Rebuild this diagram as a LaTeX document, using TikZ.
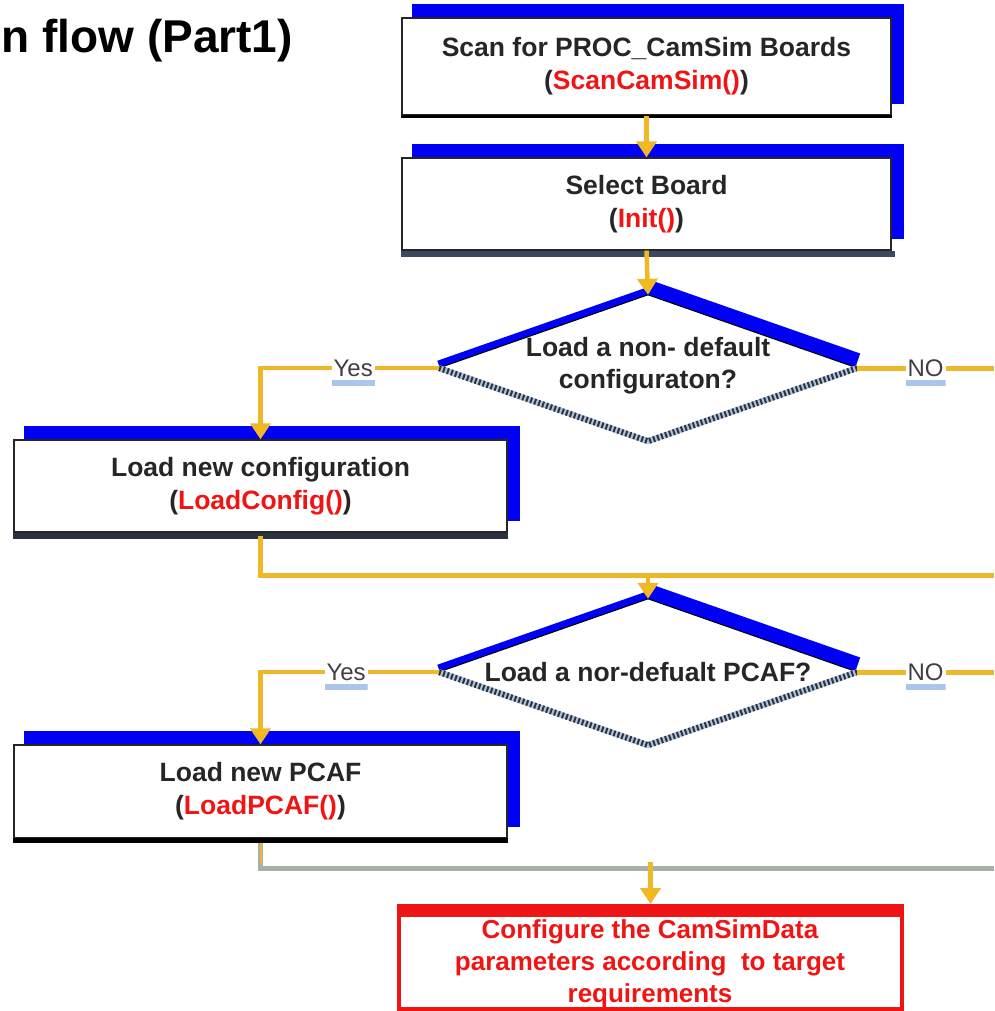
\documentclass[tikz,border=0pt]{standalone}
\usepackage{fontspec}
\setmainfont{Liberation Sans}
\usetikzlibrary{shapes.geometric,arrows.meta,calc}
\pgfdeclarelayer{bg}
\pgfsetlayers{bg,main}
\definecolor{shblue}{RGB}{0,0,245}
\definecolor{flowy}{RGB}{238,184,40}
\definecolor{tipy}{RGB}{255,190,0}
\definecolor{flowg}{RGB}{168,176,166}
\definecolor{fred}{RGB}{240,20,20}
\definecolor{darkbar}{RGB}{60,72,92}
\definecolor{lblue}{RGB}{170,198,235}
\begin{document}
\begin{tikzpicture}[x=1pt,y=-1pt,
  proc/.style={draw=black!85, line width=1.2pt, fill=white, align=center,
    minimum width=#1, font=\fontsize{26.5}{33}\selectfont\bfseries, text=black!85},
  dia/.style={diamond, minimum width=418pt, minimum height=146pt, inner sep=0pt, fill=white},
  dtext/.style={align=center, font=\fontsize{26.5}{32}\selectfont\bfseries, text=black!85},
  lbl/.style={fill=white, text=black!75, font=\fontsize{24}{24}\selectfont,
    inner xsep=2pt, inner ysep=8pt, minimum height=36pt,
    path picture={\fill[lblue] (path picture bounding box.south west) rectangle ([yshift=6pt]path picture bounding box.south east);}},
  flowline/.style={draw=flowy, line width=5pt},
  flow/.style={draw=flowy, line width=4.5pt, -{Triangle[width=20pt,length=16pt,fill=tipy]}},
  grayline/.style={draw=flowg, line width=5pt},
  title/.style={font=\fontsize{46}{50}\selectfont\bfseries}
]
\useasboundingbox (0,0) rectangle (994,1011);

% title
\node[title, anchor=base east, inner sep=0pt] (title) at (293,53) {n flow (Part1)};

% process boxes
\node[proc=489pt, minimum height=97pt] (b1) at (646.5,66.5)
  {Scan for PROC\_CamSim Boards\\(\textcolor{fred}{ScanCamSim()})};
\node[proc=489pt, minimum height=92pt] (b2) at (646.5,204)
  {Select Board\\(\textcolor{fred}{Init()})};
\node[proc=493pt, minimum height=92pt] (b3) at (260.5,486)
  {Load new configuration\\(\textcolor{fred}{LoadConfig()})};
\node[proc=493pt, minimum height=93pt] (b4) at (260.5,791.5)
  {Load new PCAF\\(\textcolor{fred}{LoadPCAF()})};

% final red box
\node[draw=fred, line width=4pt, fill=white, minimum width=503pt, minimum height=103pt] (b5) at (650.5,957.5) {};
\fill[fred] (b5.north west) rectangle ([yshift=-13pt]b5.north east);
\node[align=center, text=fred, font=\fontsize{26}{32}\selectfont\bfseries] (b5t) at (650,964)
  {Configure the CamSimData\\parameters according\ \ to target\\requirements};

% decisions
\node[dia] (d1) at (648,368) {};
\node[dia] (d2) at (648,672) {};
\node[dtext] (d1t) at (648,366) {Load a non- default\\configuraton?};
\node[dtext] (d2t) at (648,672) {Load a nor-defualt PCAF?};

\foreach \d in {d1,d2}{
  \draw[black, line width=1pt] (\d.west) -- (\d.north) -- (\d.east);
  \draw[lblue, line width=6pt] (\d.east) -- (\d.south) -- (\d.west);
  \draw[black!80, line width=6pt, dash pattern=on 2pt off 2.2pt] (\d.east) -- (\d.south) -- (\d.west);
}

% shadows
\begin{pgfonlayer}{bg}
  \foreach \n in {b1,b2,b3,b4}
    \fill[shblue] ([shift={(11,-12)}]\n.south west) rectangle ([shift={(12,-13)}]\n.north east);
  \foreach \d in {d1,d2}{
    \draw[shblue, line width=9pt] ([shift={(0,-3)}]\d.west) -- ([shift={(0,-3)}]\d.north);
    \draw[shblue, line width=18pt] ([shift={(0,-6)}]\d.north) -- ([shift={(0,-6)}]\d.east);
  }
\end{pgfonlayer}

% bottom bars
\draw[black, line width=3pt] ([yshift=-1pt]b1.south west) -- ([yshift=-1pt]b1.south east);
\draw[darkbar, line width=6pt] ([yshift=-3pt]b2.south west) -- ([shift={(3,0)},yshift=-3pt]b2.south east);
\draw[darkbar!70!black, line width=6pt] ([yshift=-3pt]b3.south west) -- ([yshift=-3pt]b3.south east);
\draw[black, line width=5pt] ([yshift=-2pt]b4.south west) -- ([yshift=-2pt]b4.south east);

% free ends
\coordinate (e1) at (994,368);
\coordinate (e2) at (994,672);
\coordinate (m1) at (994,575);
\coordinate (m2) at (994,868);
\coordinate (j1) at (d2.north |- m1);
\coordinate (j2) at (b5.north |- m2);

% connectors
\draw[flow] (b1.south) -- (b2.north);
\draw[flow] (b2.south) -- (d1.north);
\draw[flow] (d1.west) -| node[lbl, pos=0.24] (y1) {Yes} (b3.north);
\draw[flowline] (d1.east) -- node[lbl] (n1) {NO} (e1);
\draw[flowline] ([yshift=-3pt]b3.south) |- (m1);
\draw[flow] (j1) -- (d2.north);
\draw[flow] (d2.west) -| node[lbl, pos=0.26] (y2) {Yes} (b4.north);
\draw[flowline] (d2.east) -- node[lbl] (n2) {NO} (e2);
\draw[grayline] ([yshift=-4pt]b4.south) |- (m2);
\draw[flowline, line width=2pt] ([yshift=-4pt]b4.south) -- ++(0,20);
\draw[flow] ([yshift=6pt]j2) -- (b5.north);
\end{tikzpicture}
\end{document}
